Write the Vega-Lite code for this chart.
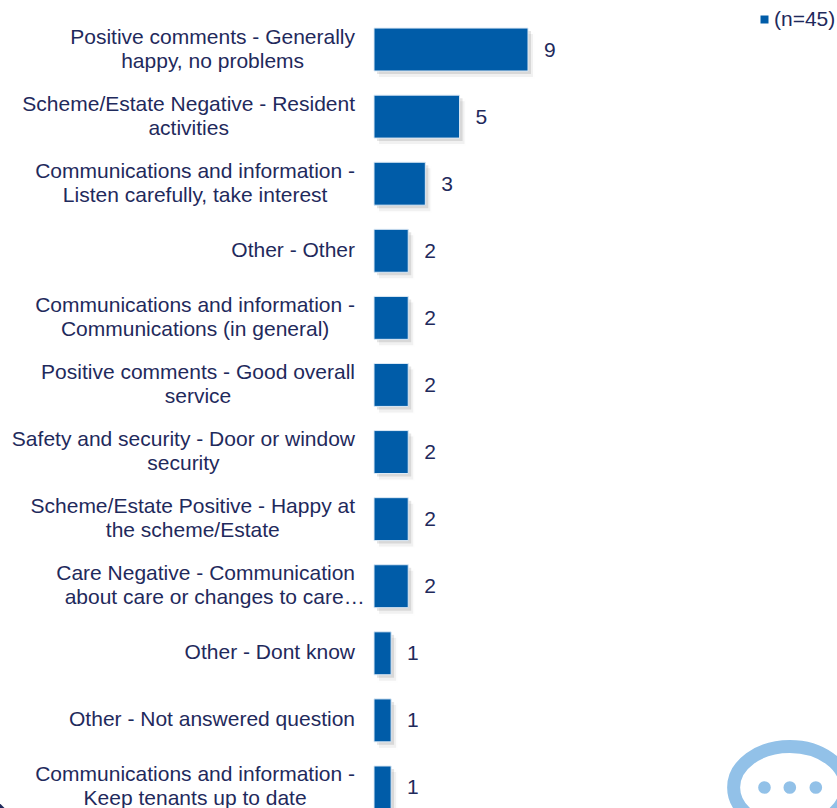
{"$schema":"https://vega.github.io/schema/vega-lite/v6.json","autosize":{"type":"none"},"width":154,"height":792,"padding":{"left":374,"top":16,"right":309,"bottom":0},"background":"#ffffff","config":{"view":{"stroke":null},"font":"Liberation Sans"},
"datasets":{"main":[
{"category":"Positive comments - Generally happy, no problems","line1":"Positive comments - Generally","line2":"happy, no problems","count":9,"series":"(n=45)"},
{"category":"Scheme/Estate Negative - Resident activities","line1":"Scheme/Estate Negative - Resident","line2":"activities","count":5,"series":"(n=45)"},
{"category":"Communications and information - Listen carefully, take interest","line1":"Communications and information -","line2":"Listen carefully, take interest","count":3,"series":"(n=45)"},
{"category":"Other - Other","line1":"Other - Other","line2":"","count":2,"series":"(n=45)"},
{"category":"Communications and information - Communications (in general)","line1":"Communications and information -","line2":"Communications (in general)","count":2,"series":"(n=45)"},
{"category":"Positive comments - Good overall service","line1":"Positive comments - Good overall","line2":"service","count":2,"series":"(n=45)"},
{"category":"Safety and security - Door or window security","line1":"Safety and security - Door or window","line2":"security","count":2,"series":"(n=45)"},
{"category":"Scheme/Estate Positive - Happy at the scheme/Estate","line1":"Scheme/Estate Positive - Happy at","line2":"the scheme/Estate","count":2,"series":"(n=45)"},
{"category":"Care Negative - Communication about care or changes to care…","line1":"Care Negative - Communication","line2":"about care or changes to care…","count":2,"series":"(n=45)"},
{"category":"Other - Dont know","line1":"Other - Dont know","line2":"","count":1,"series":"(n=45)"},
{"category":"Other - Not answered question","line1":"Other - Not answered question","line2":"","count":1,"series":"(n=45)"},
{"category":"Communications and information - Keep tenants up to date","line1":"Communications and information -","line2":"Keep tenants up to date","count":1,"series":"(n=45)"}
]},
"encoding":{"y":{"field":"category","type":"nominal","sort":null,"title":null,"axis":null,"scale":{"range":[0,805],"paddingInner":0.36,"paddingOuter":0.18}}},
"layer":[
{"data":{"name":"main"},"mark":{"type":"bar","color":"#000000","opacity":0.05,"xOffset":5,"yOffset":6,"stroke":"#000000","strokeWidth":3,"strokeOpacity":0.04},"encoding":{
"x":{"field":"count","type":"quantitative","title":null,"axis":null,"scale":{"domain":[0,9],"range":[0,154],"nice":false}}}},
{"data":{"name":"main"},"mark":{"type":"bar","color":"#000000","opacity":0.1,"xOffset":3,"yOffset":3},"encoding":{
"x":{"field":"count","type":"quantitative"}}},
{"data":{"name":"main"},"mark":{"type":"bar","stroke":"#dce9f5","strokeWidth":1},"encoding":{
"x":{"field":"count","type":"quantitative"},
"color":{"field":"series","type":"nominal","scale":{"range":["#005ca8"]},"legend":{"title":null,"orient":"none","legendX":380,"legendY":-7,"symbolType":"square","symbolSize":64,"symbolStrokeWidth":0,"labelFontSize":21,"labelColor":"#1f2a5c","labelOffset":-1,"padding":0}}}},
{"data":{"name":"main"},"mark":{"type":"text","align":"left","baseline":"middle","dx":16,"yOffset":1,"fontSize":21,"color":"#1f2a5c"},"encoding":{
"x":{"field":"count","type":"quantitative"},
"text":{"field":"count","type":"quantitative"}}},
{"data":{"name":"main"},"transform":[
{"calculate":"21*(0.556*length(datum.line1)-0.334*length(replace(datum.line1,regexp('[^ijl]','g'),''))-0.278*length(replace(datum.line1,regexp('[^ft ,./]','g'),''))-0.223*length(replace(datum.line1,regexp('[^r()-]','g'),''))-0.056*length(replace(datum.line1,regexp('[^cksvxyz]','g'),''))+0.111*length(replace(datum.line1,regexp('[^PSEKAB]','g'),''))+0.166*length(replace(datum.line1,regexp('[^wCDHNR]','g'),''))+0.222*length(replace(datum.line1,regexp('[^GO]','g'),''))+0.277*length(replace(datum.line1,regexp('[^m]','g'),'')))","as":"labelWidth"},
{"calculate":"(-19-datum.labelWidth/2)/17.111","as":"labelPos"},
{"calculate":"datum.labelPos+(indexof(datum.line2,'…')>=0?9/17.111:0)","as":"labelPos2"}
],
"layer":[
{"transform":[{"filter":"datum.line2===''"}],"mark":{"type":"text","align":"center","baseline":"middle","fontSize":21,"color":"#1f2a5c"},"encoding":{"x":{"field":"labelPos","type":"quantitative"},"text":{"field":"line1"}}},
{"transform":[{"filter":"datum.line2!==''"}],"mark":{"type":"text","align":"center","baseline":"middle","fontSize":21,"color":"#1f2a5c","yOffset":-12},"encoding":{"x":{"field":"labelPos","type":"quantitative"},"text":{"field":"line1"}}},
{"transform":[{"filter":"datum.line2!==''"}],"mark":{"type":"text","align":"center","baseline":"middle","fontSize":21,"color":"#1f2a5c","yOffset":12},"encoding":{"x":{"field":"labelPos2","type":"quantitative"},"text":{"field":"line2"}}}
]},
{"data":{"values":[{"pos":24.3,"category":"Communications and information - Keep tenants up to date"}]},"mark":{"type":"point","shape":"M-1.37,0 A1.37,1 0 1 1 1.37,0 A1.37,1 0 1 1 -1.37,0 Z","filled":false,"stroke":"#92c1e8","strokeWidth":13,"opacity":1,"size":6724},"encoding":{
"x":{"field":"pos","type":"quantitative"}}},
{"data":{"values":[{"pos":22.82,"category":"Communications and information - Keep tenants up to date"},{"pos":24.3,"category":"Communications and information - Keep tenants up to date"},{"pos":25.82,"category":"Communications and information - Keep tenants up to date"}]},"mark":{"type":"point","shape":"circle","filled":true,"color":"#92c1e8","opacity":1,"size":160},"encoding":{
"x":{"field":"pos","type":"quantitative"}}},
{"data":{"values":[{"pos":-21.86,"category":"Communications and information - Keep tenants up to date"}]},"mark":{"type":"point","shape":"M-1,-1 L1,1 L-1,1 Z","filled":true,"color":"#1f2a5c","opacity":1,"size":100,"yOffset":16},"encoding":{
"x":{"field":"pos","type":"quantitative"}}}
]}
